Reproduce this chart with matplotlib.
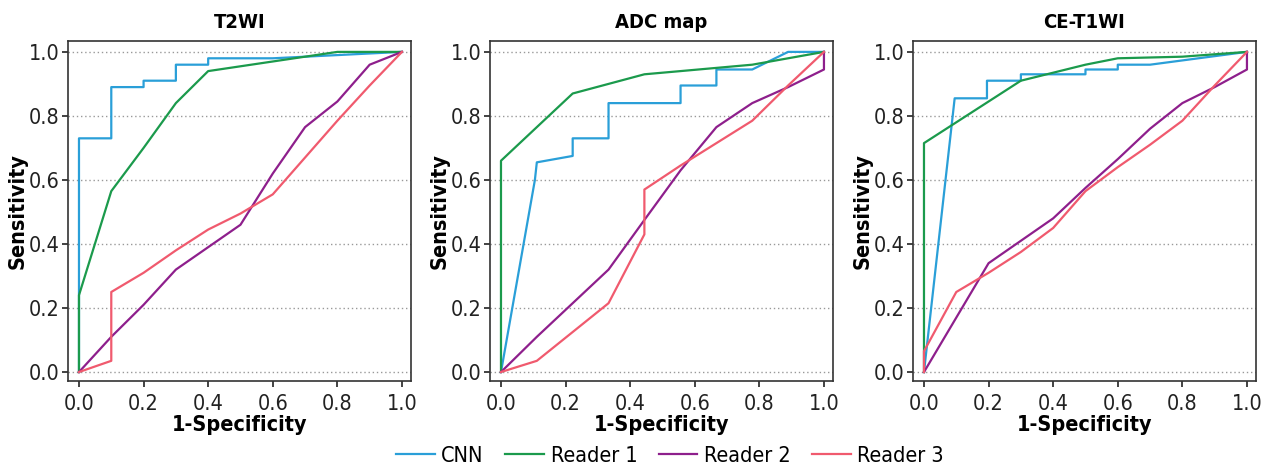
import matplotlib
matplotlib.use("Agg")
import matplotlib.pyplot as plt
from matplotlib.lines import Line2D

plt.rcParams['font.family'] = ['DejaVu Sans']
plt.rcParams['font.stretch'] = 'condensed'

titles = ['T2WI', 'ADC map', 'CE-T1WI']
names = ['CNN', 'Reader 1', 'Reader 2', 'Reader 3']
colors = ['#2a9fd8', '#1b9a4c', '#8e1f8c', '#f05a6e']

# T2WI
t2_cnn_x = [0, 0, 0.1, 0.1, 0.2, 0.2, 0.3, 0.3, 0.4, 0.4, 0.6, 1.0]
t2_cnn_y = [0, 0.73, 0.73, 0.89, 0.89, 0.91, 0.91, 0.96, 0.96, 0.98, 0.98, 1.0]
t2_r1_x = [0, 0, 0.1, 0.2, 0.3, 0.4, 0.5, 0.6, 0.7, 0.8, 1.0]
t2_r1_y = [0, 0.24, 0.565, 0.70, 0.84, 0.94, 0.955, 0.97, 0.985, 1.0, 1.0]
t2_r2_x = [0, 0.1, 0.2, 0.3, 0.4, 0.5, 0.6, 0.7, 0.8, 0.9, 1.0]
t2_r2_y = [0, 0.11, 0.21, 0.32, 0.39, 0.46, 0.62, 0.765, 0.845, 0.96, 1.0]
t2_r3_x = [0, 0.1, 0.1, 0.2, 0.3, 0.4, 0.5, 0.6, 0.7, 0.8, 0.9, 1.0]
t2_r3_y = [0, 0.035, 0.25, 0.31, 0.38, 0.445, 0.495, 0.555, 0.67, 0.785, 0.895, 1.0]

# ADC map
adc_cnn_x = [0, 0.105, 0.111, 0.222, 0.222, 0.333, 0.333, 0.556, 0.556, 0.667, 0.667, 0.778, 0.889, 1.0]
adc_cnn_y = [0, 0.60, 0.655, 0.675, 0.73, 0.73, 0.84, 0.84, 0.895, 0.895, 0.945, 0.945, 1.0, 1.0]
adc_r1_x = [0, 0, 0.111, 0.222, 0.333, 0.444, 0.556, 0.667, 0.778, 0.889, 1.0]
adc_r1_y = [0, 0.66, 0.765, 0.87, 0.90, 0.93, 0.94, 0.95, 0.96, 0.98, 1.0]
adc_r2_x = [0, 0.111, 0.222, 0.333, 0.444, 0.556, 0.667, 0.778, 0.889, 1.0, 1.0]
adc_r2_y = [0, 0.11, 0.215, 0.32, 0.475, 0.63, 0.765, 0.84, 0.89, 0.945, 1.0]
adc_r3_x = [0, 0.111, 0.222, 0.333, 0.444, 0.444, 0.556, 0.667, 0.778, 0.889, 1.0]
adc_r3_y = [0, 0.035, 0.125, 0.215, 0.43, 0.57, 0.645, 0.715, 0.785, 0.895, 1.0]

# CE-T1WI
ce_cnn_x = [0, 0.095, 0.195, 0.195, 0.3, 0.3, 0.5, 0.5, 0.6, 0.6, 0.7, 1.0]
ce_cnn_y = [0, 0.855, 0.855, 0.91, 0.91, 0.93, 0.93, 0.945, 0.945, 0.96, 0.96, 1.0]
ce_r1_x = [0, 0, 0.1, 0.2, 0.3, 0.4, 0.5, 0.6, 0.8, 1.0]
ce_r1_y = [0, 0.715, 0.78, 0.845, 0.91, 0.935, 0.96, 0.98, 0.985, 1.0]
ce_r2_x = [0, 0.1, 0.2, 0.3, 0.4, 0.5, 0.6, 0.7, 0.8, 0.9, 1.0, 1.0]
ce_r2_y = [0, 0.17, 0.34, 0.41, 0.48, 0.575, 0.665, 0.76, 0.84, 0.89, 0.945, 1.0]
ce_r3_x = [0, 0, 0.1, 0.2, 0.3, 0.4, 0.5, 0.6, 0.7, 0.8, 0.9, 1.0]
ce_r3_y = [0, 0.065, 0.25, 0.31, 0.375, 0.45, 0.565, 0.64, 0.71, 0.785, 0.895, 1.0]

panels = [
    [(t2_cnn_x, t2_cnn_y), (t2_r1_x, t2_r1_y), (t2_r2_x, t2_r2_y), (t2_r3_x, t2_r3_y)],
    [(adc_cnn_x, adc_cnn_y), (adc_r1_x, adc_r1_y), (adc_r2_x, adc_r2_y), (adc_r3_x, adc_r3_y)],
    [(ce_cnn_x, ce_cnn_y), (ce_r1_x, ce_r1_y), (ce_r2_x, ce_r2_y), (ce_r3_x, ce_r3_y)],
]

fig = plt.figure(figsize=(12.69, 4.70), dpi=100)
lefts = [68, 490, 913]
for k in range(3):
    ax = fig.add_axes([lefts[k] / 1269, 1 - 381 / 470, 343 / 1269, 340 / 470])
    for (xs, ys), c in zip(panels[k], colors):
        ax.plot(xs, ys, color=c, lw=1.6)
    ax.set_xlim(-0.034, 1.028)
    ax.set_ylim(-0.028, 1.034)
    ax.set_xticks([0, 0.2, 0.4, 0.6, 0.8, 1.0])
    ax.set_yticks([0, 0.2, 0.4, 0.6, 0.8, 1.0])
    ax.set_xticklabels(['0.0', '0.2', '0.4', '0.6', '0.8', '1.0'])
    ax.set_yticklabels(['0.0', '0.2', '0.4', '0.6', '0.8', '1.0'])
    ax.yaxis.grid(True, linestyle=(0, (1, 2)), color='#999999', lw=1)
    ax.set_axisbelow(True)
    for s in ax.spines.values():
        s.set_color('#333333')
        s.set_linewidth(1.2)
    ax.tick_params(labelsize=15.5, colors='#222222', length=4, width=1.2, pad=2)
    ax.tick_params(axis='x', pad=5)
    ax.set_xlabel('1-Specificity', fontsize=15.5, fontweight='bold', labelpad=1)
    ax.set_ylabel('Sensitivity', fontsize=15.5, fontweight='bold', labelpad=1)
    ax.set_title(titles[k], fontsize=14.5, fontweight='bold', pad=9)

handles = [Line2D([], [], color=c, lw=1.6) for c in colors]
fig.legend(handles, names, loc='center', bbox_to_anchor=(670 / 1269, 1 - 456 / 470),
           ncol=4, frameon=False, fontsize=15.5, handlelength=1.8, handletextpad=0.3,
           columnspacing=1.0)

fig.savefig('out.png', dpi=100)
